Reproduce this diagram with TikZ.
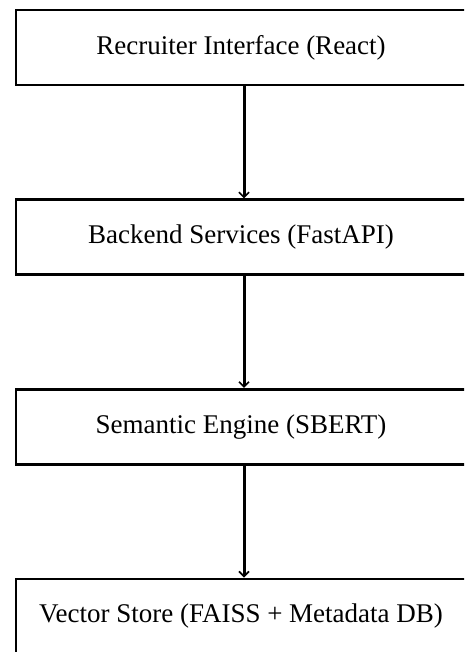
\documentclass[tikz,border=0pt]{standalone}
\usepackage{fontspec}
\setmainfont{Liberation Serif}
\usepackage{tikz}
\usetikzlibrary{arrows.meta, positioning}

\tikzset{
  layerbox/.style={draw=black, line width=2.6pt, minimum width=450pt,
    minimum height=75pt, inner sep=0pt, align=center,
    font=\fontsize{27pt}{31pt}\selectfont},
  flowarrow/.style={line width=3pt, -{Straight Barb[length=5pt,width=10pt,line width=1.6pt]}}
}

\begin{document}
\begin{tikzpicture}[x=1pt, y=-1pt, node distance=112pt]
        % Bounding box of the crop
        \useasboundingbox (0,0) rectangle (464,652);
        \clip (0,0) rectangle (464,652);

        % === Layers ===
        \node[layerbox] (ui) at (241,47.5) {Recruiter Interface (React)};
        \node[layerbox, below=of ui] (backend) {Backend Services (FastAPI)};
        \node[layerbox, below=of backend] (engine) {Semantic Engine (SBERT)};
        \node[layerbox, below=of engine] (store) {Vector Store (FAISS + Metadata DB)};

        % Frecce
        \draw[flowarrow] ([xshift=3pt]ui.south) -- ([xshift=3pt]backend.north);
        \draw[flowarrow] ([xshift=3pt]backend.south) -- ([xshift=3pt]engine.north);
        \draw[flowarrow] ([xshift=3pt]engine.south) -- ([xshift=3pt]store.north);
    \end{tikzpicture}
\end{document}
